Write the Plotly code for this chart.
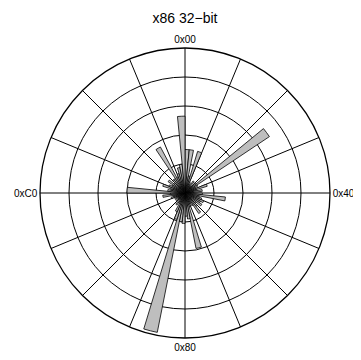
import plotly.graph_objects as go

# byte frequency, 64 bins of 4 opcodes each (0x00-0x03, 0x04-0x07, ...)
bin_start = list(range(0, 256, 4))
freq = [
    1.50, 1.50, 0.60, 1.50, 0.40, 0.30, 0.50, 0.30,
    0.50, 3.50, 0.50, 0.40, 0.80, 0.40, 0.60, 0.30,
    0.60, 1.40, 0.50, 0.60, 0.70, 0.60, 0.70, 0.50,
    0.60, 0.85, 0.50, 0.40, 0.50, 1.95, 0.90, 0.80,
    1.05, 1.00, 4.90, 0.95, 0.70, 0.40, 0.50, 0.30,
    0.40, 0.30, 0.40, 0.30, 0.50, 0.40, 0.77, 0.50,
    2.00, 0.60, 0.50, 0.80, 0.60, 0.50, 0.70, 0.50,
    0.60, 0.60, 1.80, 0.60, 0.70, 0.90, 1.00, 2.65,
]
grid_angles = [i * 22.5 for i in range(16)]
grid_text = ["0x00" if a == 0 else "0x40" if a == 90 else
             "0x80" if a == 180 else "0xC0" if a == 270 else "" for a in grid_angles]

deg = 360 / 256
theta = [(b + 2) * deg for b in bin_start]

# page body has an 8px margin, so the plot is laid out 8px up/left
W, H, off = 361, 360, 8

fig = go.Figure()
fig.add_trace(go.Barpolar(
    r=freq,
    theta=theta,
    width=[4 * deg] * len(freq),
    marker=dict(color="#BEBEBE", line=dict(color="black", width=0.8)),
    hoverinfo="none",
))

fig.update_layout(
    width=W, height=H,
    margin=dict(l=0, r=0, t=0, b=0),
    paper_bgcolor="white",
    showlegend=False,
    font=dict(family="Liberation Sans", color="black"),
    title=dict(text="x86 32\u2212bit", x=(185 - off) / W, xanchor="center",
               y=1 - (18 - off) / H, yanchor="middle", font=dict(size=14)),
    polar=dict(
        domain=dict(x=[(40 - off) / W, (330 - off) / W],
                    y=[1 - (338 - off) / H, 1 - (48 - off) / H]),
        bgcolor="white",
        bargap=0,
        angularaxis=dict(
            rotation=90, direction="clockwise",
            tickmode="array", tickvals=grid_angles, ticktext=grid_text,
            ticks="", showline=True, linecolor="black", linewidth=1.3,
            gridcolor="black", gridwidth=1.1,
            tickfont=dict(size=10),
        ),
        radialaxis=dict(
            range=[0, 5], tickmode="array", tickvals=[1, 2, 3, 4, 5],
            showticklabels=False, ticks="", showline=False,
            gridcolor="black", gridwidth=1.1,
        ),
    ),
)

fig.write_html("out.html")
